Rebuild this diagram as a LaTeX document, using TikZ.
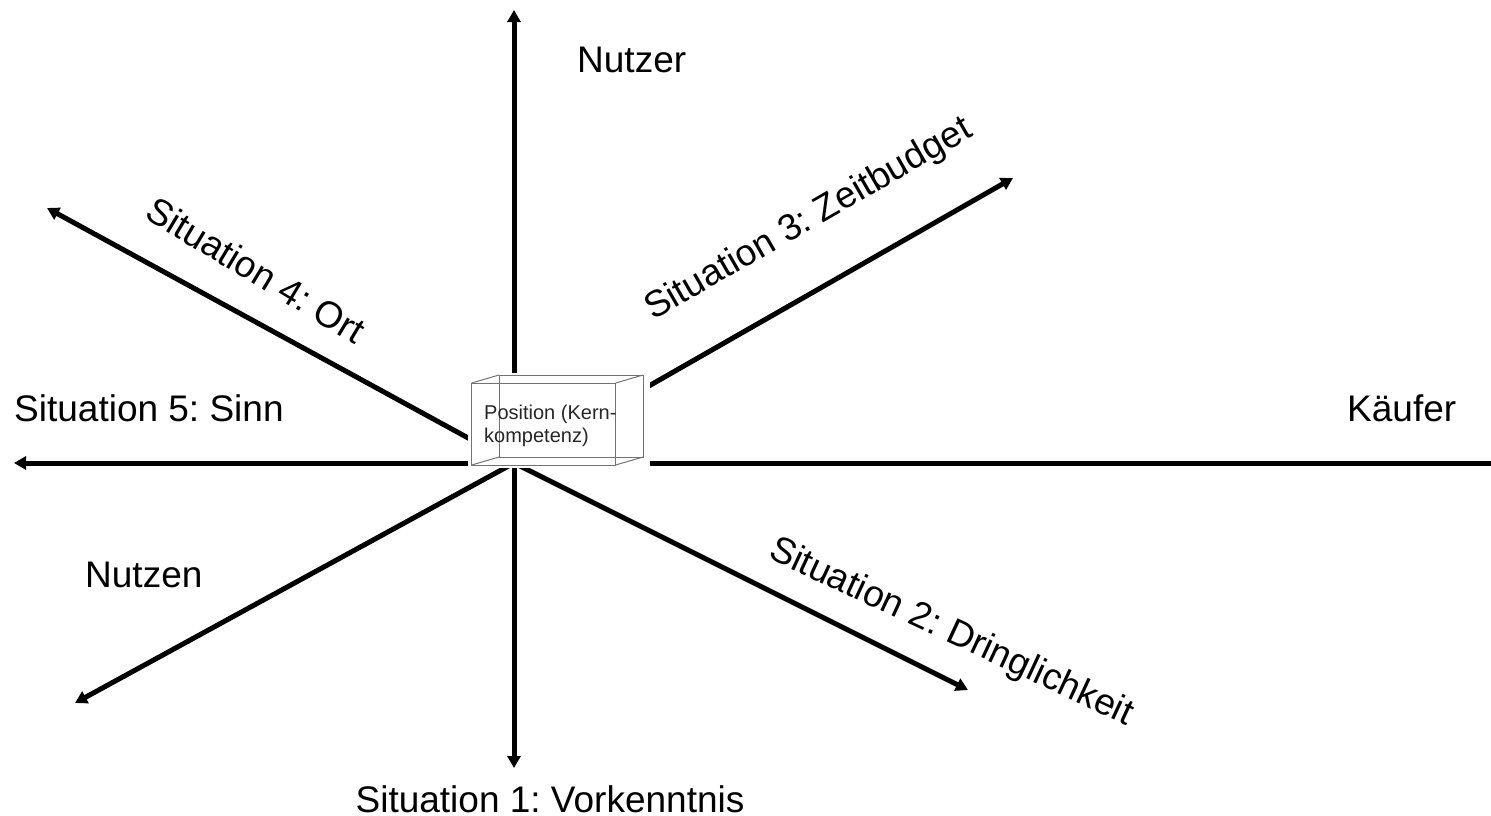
\documentclass[tikz,border=0pt]{standalone}
\usepackage{fontspec}
\setmainfont{Liberation Sans}
\usetikzlibrary{arrows.meta}
\frenchspacing
\begin{document}
\begin{tikzpicture}[x=1pt,y=-1pt,
  axis/.style={line width=5pt,-{Triangle[length=12pt,width=13pt]}},
  axisplain/.style={line width=5pt},
  lbl/.style={font=\fontsize{37}{44}\selectfont,inner sep=0pt},
  cub/.style={draw=black!55,line width=1pt}]
\useasboundingbox (0,0) rectangle (1491,815);
\coordinate (c) at (514,463);
\coordinate (tN) at (514,10);
\coordinate (tS) at (514,768);
\coordinate (tW) at (14,463);
\coordinate (tE) at (1491,463);
\coordinate (tNE) at (1013,178);
\coordinate (tNW) at (47,208);
\coordinate (tSW) at (75,703);
\coordinate (tSE) at (968,690);
\draw[axis] (c) -- (tN);
\draw[axis] (c) -- (tS);
\draw[axis] (c) -- (tW);
\draw[axisplain] (c) -- (tE);
\draw[axis] (c) -- (tNE);
\draw[axis] (c) -- (tNW);
\draw[axis] (c) -- (tSW);
\draw[axis] (c) -- (tSE);
% box
\fill[white] (468,373) rectangle (650,468);
\draw[cub] (499,375) rectangle (643,457);
\draw[cub] (471.7,383) rectangle (615.7,465);
\draw[cub] (471.7,383) -- (499,375) (615.7,383) -- (643,375)
  (615.7,465) -- (643,457) (471.7,465) -- (499,457);
\node[anchor=west,inner sep=0pt,align=left,text=black!85,
  font=\fontsize{20}{23}\selectfont] (pos) at (484,426) {Position (Kern-\\kompetenz)};
% labels
\node[lbl,anchor=west] (nutzer) at (577,60) {Nutzer};
\node[lbl,anchor=west] (sinn) at (14,408) {Situation 5: Sinn};
\node[lbl,anchor=west] (kaeufer) at (1347,408) {Käufer};
\node[lbl,anchor=west] (nutzen) at (85,575) {Nutzen};
\node[lbl] (vork) at (550,799) {Situation 1: Vorkenntnis};
\node[lbl,rotate=-31] (ort) at (256,270) {Situation 4: Ort};
\node[lbl,rotate=30] (zeit) at (809,220) {Situation 3: Zeitbudget};
\node[lbl,rotate=-25] (dring) at (951,633) {Situation 2: Dringlichkeit};
\end{tikzpicture}
\end{document}
